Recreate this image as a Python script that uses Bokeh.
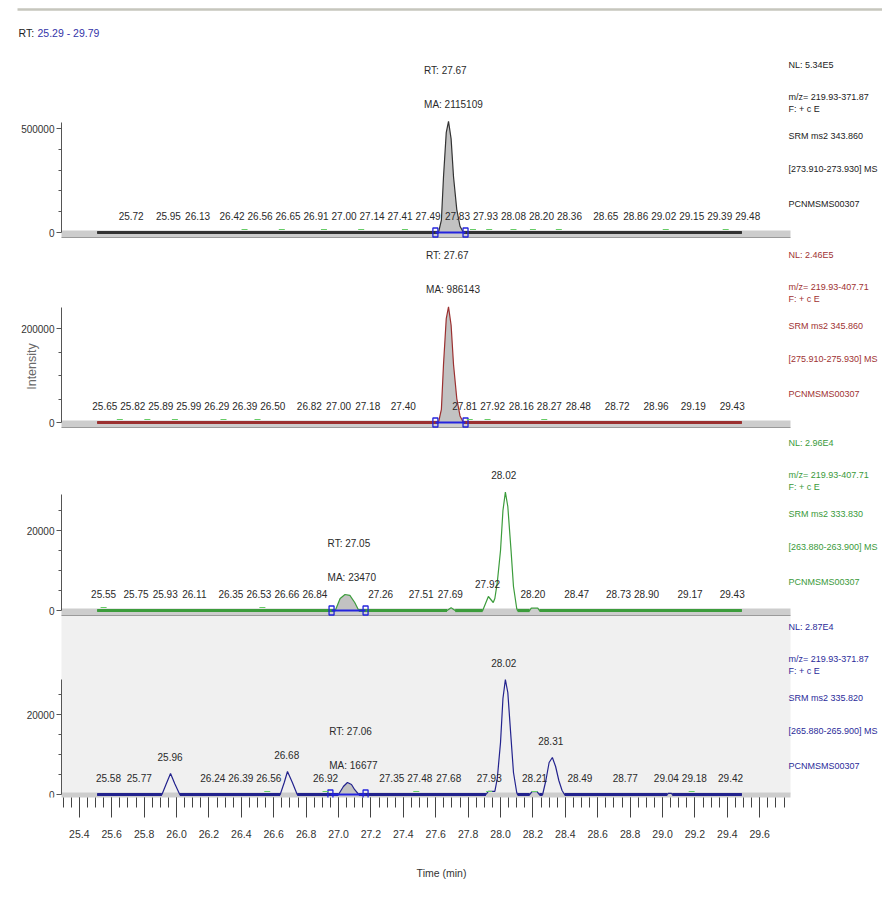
import numpy as np
from bokeh.plotting import figure
from bokeh.models import (Range1d, LinearAxis, FixedTicker, ColumnDataSource,
                          BasicTickFormatter, NumeralTickFormatter)
from bokeh.core.properties import value
from bokeh.embed import file_html
from bokeh.resources import INLINE

# ---------------- data ----------------
rt_start, rt_end = 25.29, 29.79

x_major_ticks = [25.4, 25.6, 25.8, 26.0, 26.2, 26.4, 26.6, 26.8, 27.0, 27.2, 27.4,
                 27.6, 27.8, 28.0, 28.2, 28.4, 28.6, 28.8, 29.0, 29.2, 29.4, 29.6]
x_minor_ticks = [round(25.30 + 0.05 * i, 2) for i in range(90)]

# Panel 1 (black)
p1_time = [25.51, 27.617, 27.635, 27.648, 27.665, 27.679, 27.695, 27.71, 27.73, 27.75, 27.771, 29.49]
p1_int = [0, 0, 60000, 267000, 480000, 534000, 450000, 267000, 110000, 30000, 0, 0]
p1_label_rt = [25.72, 25.95, 26.13, 26.42, 26.56, 26.65, 26.91, 27.00, 27.14, 27.41, 27.49,
               27.83, 27.93, 28.08, 28.20, 28.36, 28.65, 28.86, 29.02, 29.15, 29.39, 29.48]
p1_label_int = [0] * len(p1_label_rt)
p1_integ = [27.598, 27.784]
p1_peak_rt, p1_peak_ma = 27.67, 2115109
p1_info = ["NL: 5.34E5", "m/z= 219.93-371.87", "F: + c E", "SRM ms2 343.860",
           "[273.910-273.930] MS", "PCNMSMS00307"]
p1_y_major = [0, 500000]
p1_y_minor = [100000, 200000, 300000, 400000]
p1_y_top = 530000
p1_marks = [26.42, 26.65, 26.91, 27.14, 27.41, 27.83, 27.93, 28.08, 28.20, 28.36, 29.02, 29.39]

# Panel 2 (red)
p2_time = [25.51, 27.617, 27.635, 27.648, 27.665, 27.679, 27.695, 27.71, 27.73, 27.75, 27.771, 29.49]
p2_int = [0, 0, 28000, 123000, 221000, 246000, 207000, 123000, 51000, 14000, 0, 0]
p2_label_rt = [25.65, 25.82, 25.89, 25.99, 26.29, 26.39, 26.50, 26.82, 27.00, 27.18, 27.40,
               27.81, 27.92, 28.16, 28.27, 28.48, 28.72, 28.96, 29.19, 29.43]
p2_label_int = [0] * len(p2_label_rt)
p2_integ = [27.598, 27.784]
p2_peak_rt, p2_peak_ma = 27.67, 986143
p2_info = ["NL: 2.46E5", "m/z= 219.93-407.71", "F: + c E", "SRM ms2 345.860",
           "[275.910-275.930] MS", "PCNMSMS00307"]
p2_y_major = [0, 200000]
p2_y_minor = [50000, 100000, 150000]
p2_y_top = 245000
p2_marks = [25.65, 25.82, 25.99, 26.29, 26.50, 27.81, 27.92, 28.27]

# Panel 3 (green)
p3_time = [25.51, 26.98, 27.01, 27.04, 27.07, 27.10, 27.125, 27.67, 27.695, 27.72,
           27.89, 27.905, 27.925, 27.945, 27.955, 27.965, 27.98, 28.00, 28.015, 28.03,
           28.045, 28.065, 28.08, 28.10, 28.105, 28.18, 28.19, 28.23, 28.24, 29.49]
p3_int = [0, 0, 3000, 4000, 3800, 2000, 0, 0, 700, 0,
          0, 1500, 3500, 2500, 2000, 3000, 7000, 15000, 25000, 29600,
          26000, 15000, 6000, 500, 0, 0, 600, 600, 0, 0]
p3_label_rt = [25.55, 25.75, 25.93, 26.11, 26.35, 26.53, 26.66, 26.84, 27.26, 27.51, 27.69,
               27.92, 28.02, 28.20, 28.47, 28.73, 28.90, 29.17, 29.43]
p3_label_int = [0, 0, 0, 0, 0, 0, 0, 0, 0, 0, 0,
                2500, 29600, 0, 0, 0, 0, 0, 0]
p3_integ = [26.957, 27.167]
p3_peak_rt, p3_peak_ma = 27.05, 23470
p3_info = ["NL: 2.96E4", "m/z= 219.93-407.71", "F: + c E", "SRM ms2 333.830",
           "[263.880-263.900] MS", "PCNMSMS00307"]
p3_y_major = [0, 20000]
p3_y_minor = [5000, 10000, 15000, 25000]
p3_y_top = 29000
p3_marks = [25.55, 26.53]

# Panel 4 (blue)
p4_time = [25.51, 25.91, 25.935, 25.963, 25.99, 26.02, 26.64, 26.665, 26.685, 26.715, 26.745,
           27.00, 27.03, 27.055, 27.08, 27.10, 27.125, 27.91, 27.925, 27.965, 27.98, 28.00,
           28.015, 28.03, 28.045, 28.065, 28.08, 28.10, 28.105, 28.18, 28.195, 28.225, 28.24,
           28.26, 28.28, 28.30, 28.32, 28.34, 28.36, 28.38, 28.395, 29.03, 29.035, 29.055,
           29.06, 29.49]
p4_int = [0, 0, 2500, 5250, 2600, 0, 0, 3000, 5750, 3000, 0,
          0, 2000, 3000, 2500, 1200, 0, 0, 800, 800, 4000, 13000,
          24000, 28700, 25500, 14000, 5500, 500, 0, 0, 700, 700, 0,
          0, 3500, 8000, 9250, 7000, 3500, 1000, 0, 0, 300, 300,
          0, 0]
p4_label_rt = [25.58, 25.77, 25.96, 26.24, 26.39, 26.56, 26.68, 26.92, 27.35, 27.48, 27.68,
               27.93, 28.02, 28.21, 28.31, 28.49, 28.77, 29.04, 29.18, 29.42]
p4_label_int = [0, 0, 5250, 0, 0, 0, 5750, 0, 0, 0, 0,
                0, 28700, 0, 9250, 0, 0, 0, 0, 0]
p4_integ = [26.95, 27.167]
p4_peak_rt, p4_peak_ma = 27.06, 16677
p4_info = ["NL: 2.87E4", "m/z= 219.93-371.87", "F: + c E", "SRM ms2 335.820",
           "[265.880-265.900] MS", "PCNMSMS00307"]
p4_y_major = [0, 20000]
p4_y_minor = [5000, 10000, 15000, 25000]
p4_y_top = 28700
p4_marks = [26.56, 26.92, 27.48, 27.93, 28.21, 29.18]

# ---------------- layout / style ----------------
FONT = "Liberation Sans, Arial, sans-serif"
FIG_W, FIG_H = 882, 890
FRAME_H = 797
BORDER_BOTTOM = FIG_H - FRAME_H
PX_PER_MIN = 162.0
AXIS_PX = 61
x_start = rt_start - AXIS_PX / PX_PER_MIN
x_end = x_start + FIG_W / PX_PER_MIN
TEXT_LEFT_PX = 788
INFO_OFFSETS = [-168, -136, -124, -97, -64, -29]
LABEL_SEP = 28

panels = [
    dict(name="p1", time=p1_time, inten=p1_int, lrt=p1_label_rt, lint=p1_label_int,
         integ=p1_integ, prt=p1_peak_rt, pma=p1_peak_ma, info=p1_info,
         ymaj=p1_y_major, ymin=p1_y_minor, ytop=p1_y_top, marks=p1_marks,
         base=232, upp=500000 / 104, color="#333333", tcolor="#222222", block_dx=-23),
    dict(name="p2", time=p2_time, inten=p2_int, lrt=p2_label_rt, lint=p2_label_int,
         integ=p2_integ, prt=p2_peak_rt, pma=p2_peak_ma, info=p2_info,
         ymaj=p2_y_major, ymin=p2_y_minor, ytop=p2_y_top, marks=p2_marks,
         base=422, upp=200000 / 94, color="#9b3030", tcolor="#a03232", block_dx=-21),
    dict(name="p3", time=p3_time, inten=p3_int, lrt=p3_label_rt, lint=p3_label_int,
         integ=p3_integ, prt=p3_peak_rt, pma=p3_peak_ma, info=p3_info,
         ymaj=p3_y_major, ymin=p3_y_minor, ytop=p3_y_top, marks=p3_marks,
         base=610, upp=250.0, color="#3c9c3c", tcolor="#3a9a3a", block_dx=-19),
    dict(name="default", time=p4_time, inten=p4_int, lrt=p4_label_rt, lint=p4_label_int,
         integ=p4_integ, prt=p4_peak_rt, pma=p4_peak_ma, info=p4_info,
         ymaj=p4_y_major, ymin=p4_y_minor, ytop=p4_y_top, marks=p4_marks,
         base=794, upp=250.0, color="#23238e", tcolor="#2b2b9a", block_dx=-19),
]


def yr(pn):
    return Range1d(-(FRAME_H - pn["base"]) * pn["upp"], pn["base"] * pn["upp"])


p = figure(width=FIG_W, height=FIG_H, output_backend="svg", toolbar_location=None,
           x_range=Range1d(x_start, x_end), y_range=yr(panels[3]),
           y_axis_location=None, min_border_left=0, min_border_right=0,
           min_border_top=0, min_border_bottom=BORDER_BOTTOM)
p.outline_line_color = None
p.xgrid.visible = False
p.ygrid.visible = False
p.extra_y_ranges = {pn["name"]: yr(pn) for pn in panels[:3]}

# panel 4 grey background
p4 = panels[3]
p.quad(left=[rt_start], right=[rt_end], bottom=[0], top=[182 * p4["upp"]],
       fill_color="#f0f0f0", line_color=None, y_range_name="default")

# top grey rule + overall RT range title
p1 = panels[0]
p.segment(x0=[x_start + 17 / PX_PER_MIN], x1=[x_end], y0=[223 * p1["upp"]], y1=[223 * p1["upp"]],
          line_color="#c6c6bd", line_width=2.5, y_range_name="p1")
p.text(x=[x_start + 18 / PX_PER_MIN], y=[200 * p1["upp"]], text=["RT:"], text_align="left",
       text_baseline="middle", text_font=value(FONT), text_font_size="10.5px",
       text_color="#222222", y_range_name="p1")
p.text(x=[x_start + 18 / PX_PER_MIN], y=[200 * p1["upp"]],
       text=[f"{rt_start:.2f} - {rt_end:.2f}"], x_offset=19, text_align="left",
       text_baseline="middle", text_font=value(FONT), text_font_size="10.5px",
       text_color="#3434a8", y_range_name="p1")

# y-axis title
p2 = panels[1]
p.text(x=[x_start + 31 / PX_PER_MIN], y=[56 * p2["upp"]], text=["Intensity"], angle=np.pi / 2,
       text_align="center", text_baseline="middle", text_font=value(FONT),
       text_font_size="12.5px", text_color="#6a6a6a", y_range_name="p2")


def spread(xs, min_sep, iters=300):
    xs = list(xs)
    for _ in range(iters):
        moved = False
        for i in range(len(xs) - 1):
            gap = xs[i + 1] - xs[i]
            if gap < min_sep - 1e-6:
                d = (min_sep - gap) / 2
                xs[i] -= d
                xs[i + 1] += d
                moved = True
        if not moved:
            break
    return xs


for pn in panels:
    nm, u = pn["name"], pn["upp"]
    t = np.array(pn["time"], dtype=float)
    v = np.array(pn["inten"], dtype=float)

    # grey baseline bar
    p.rect(x=[(rt_start + rt_end) / 2], y=[-1.5 * u], width=[rt_end - rt_start], height=7,
           height_units="screen", fill_color="#cdcdcd", line_color=None, y_range_name=nm)
    p.segment(x0=[rt_start], x1=[rt_end], y0=[-5 * u], y1=[-5 * u], line_color="#9a9a9a",
              line_width=1, y_range_name=nm)

    # integrated peak fill
    a, b = pn["integ"]
    m = (t >= a) & (t <= b)
    p.varea(x=t[m], y1=np.zeros(m.sum()), y2=v[m], fill_color="#c2c2c2", y_range_name=nm)

    # trace
    p.line(t, v, line_color=pn["color"], line_width=1.2, y_range_name=nm)
    flat = [(t[i], t[i + 1]) for i in range(len(t) - 1) if v[i] == 0 and v[i + 1] == 0]
    p.segment(x0=[f[0] for f in flat], x1=[f[1] for f in flat], y0=[0] * len(flat),
              y1=[0] * len(flat), line_color=pn["color"], line_width=3.2, y_range_name=nm)

    # integration baseline and markers
    p.segment(x0=[a], x1=[b], y0=[0], y1=[0], line_color="#2424dd", line_width=2,
              y_range_name=nm)
    p.rect(x=[a, b], y=[0, 0], width=5, height=9, width_units="screen", height_units="screen",
           fill_color=None, line_color="#2424dd", line_width=1.3, y_range_name=nm)

    # small green apex marks
    mk = pn["marks"]
    p.segment(x0=[x - 3 / PX_PER_MIN for x in mk], x1=[x + 3 / PX_PER_MIN for x in mk],
              y0=[3 * u] * len(mk), y1=[3 * u] * len(mk), line_color="#66cc66",
              line_width=1, y_range_name=nm)

    # retention-time labels (base-level ones are spread so they do not overlap)
    lrt = np.array(pn["lrt"], dtype=float)
    lint = np.array(pn["lint"], dtype=float)
    px = (lrt - x_start) * PX_PER_MIN
    dx = np.zeros(len(lrt))
    base_idx = [i for i in range(len(lrt)) if lint[i] == 0]
    new = spread([px[i] for i in base_idx], LABEL_SEP)
    for k, i in enumerate(base_idx):
        dx[i] = new[k] - px[i]
    src = ColumnDataSource(dict(x=lrt, y=lint, text=[f"{r:.2f}" for r in lrt], dx=dx))
    p.text(x="x", y="y", text="text", x_offset="dx", y_offset=-17, source=src,
           text_align="center", text_baseline="middle", text_font=value(FONT),
           text_font_size="10px", text_color="#2a2a2a", y_range_name=nm)

    # RT / MA block over integrated peak
    apex = float(v[m].max())
    bsrc = ColumnDataSource(dict(x=[pn["prt"], pn["prt"]], y=[apex, apex],
                                 text=[f"RT: {pn['prt']:.2f}", f"MA: {pn['pma']}"],
                                 dy=[-51, -17]))
    p.text(x="x", y="y", text="text", y_offset="dy", x_offset=pn["block_dx"], source=bsrc,
           text_align="left", text_baseline="middle", text_font=value(FONT),
           text_font_size="10px", text_color="#2a2a2a", y_range_name=nm)

    # info text on the right
    n = len(pn["info"])
    isrc = ColumnDataSource(dict(x=[x_start + TEXT_LEFT_PX / PX_PER_MIN] * n, y=[0] * n,
                                 text=pn["info"], dy=INFO_OFFSETS))
    p.text(x="x", y="y", text="text", y_offset="dy", source=isrc, text_align="left",
           text_baseline="middle", text_font=value(FONT), text_font_size="9px",
           text_color=pn["tcolor"], y_range_name=nm)

    # y axis of this panel
    ax = LinearAxis(y_range_name=nm, fixed_location=rt_start, bounds=(0, pn["ytop"]),
                    ticker=FixedTicker(ticks=pn["ymaj"], minor_ticks=pn["ymin"]),
                    formatter=BasicTickFormatter(use_scientific=False))
    ax.axis_line_color = "#555555"
    ax.major_tick_line_color = "#555555"
    ax.minor_tick_line_color = "#555555"
    ax.major_tick_out = 5
    ax.major_tick_in = 0
    ax.minor_tick_out = 3
    ax.minor_tick_in = 0
    ax.major_label_standoff = 2
    ax.major_label_text_font = FONT
    ax.major_label_text_font_size = "10px"
    ax.major_label_text_color = "#333333"
    p.add_layout(ax, "left")

# bottom time axis
xa = p.xaxis[0]
xa.ticker = FixedTicker(ticks=x_major_ticks, minor_ticks=x_minor_ticks)
xa.formatter = NumeralTickFormatter(format="0.0")
xa.bounds = (rt_start, rt_end)
xa.axis_line_color = None
xa.major_tick_line_color = "#444444"
xa.minor_tick_line_color = "#444444"
xa.major_tick_out = 20
xa.major_tick_in = 0
xa.minor_tick_out = 10
xa.minor_tick_in = 0
xa.major_label_standoff = 12
xa.major_label_text_font = FONT
xa.major_label_text_font_size = "10.5px"
xa.major_label_text_color = "#333333"
xa.axis_label = "Time (min)"
xa.axis_label_standoff = 26
xa.axis_label_text_font = FONT
xa.axis_label_text_font_size = "10.5px"
xa.axis_label_text_font_style = "normal"
xa.axis_label_text_color = "#333333"

open("out.html", "w").write(file_html(p, INLINE))
